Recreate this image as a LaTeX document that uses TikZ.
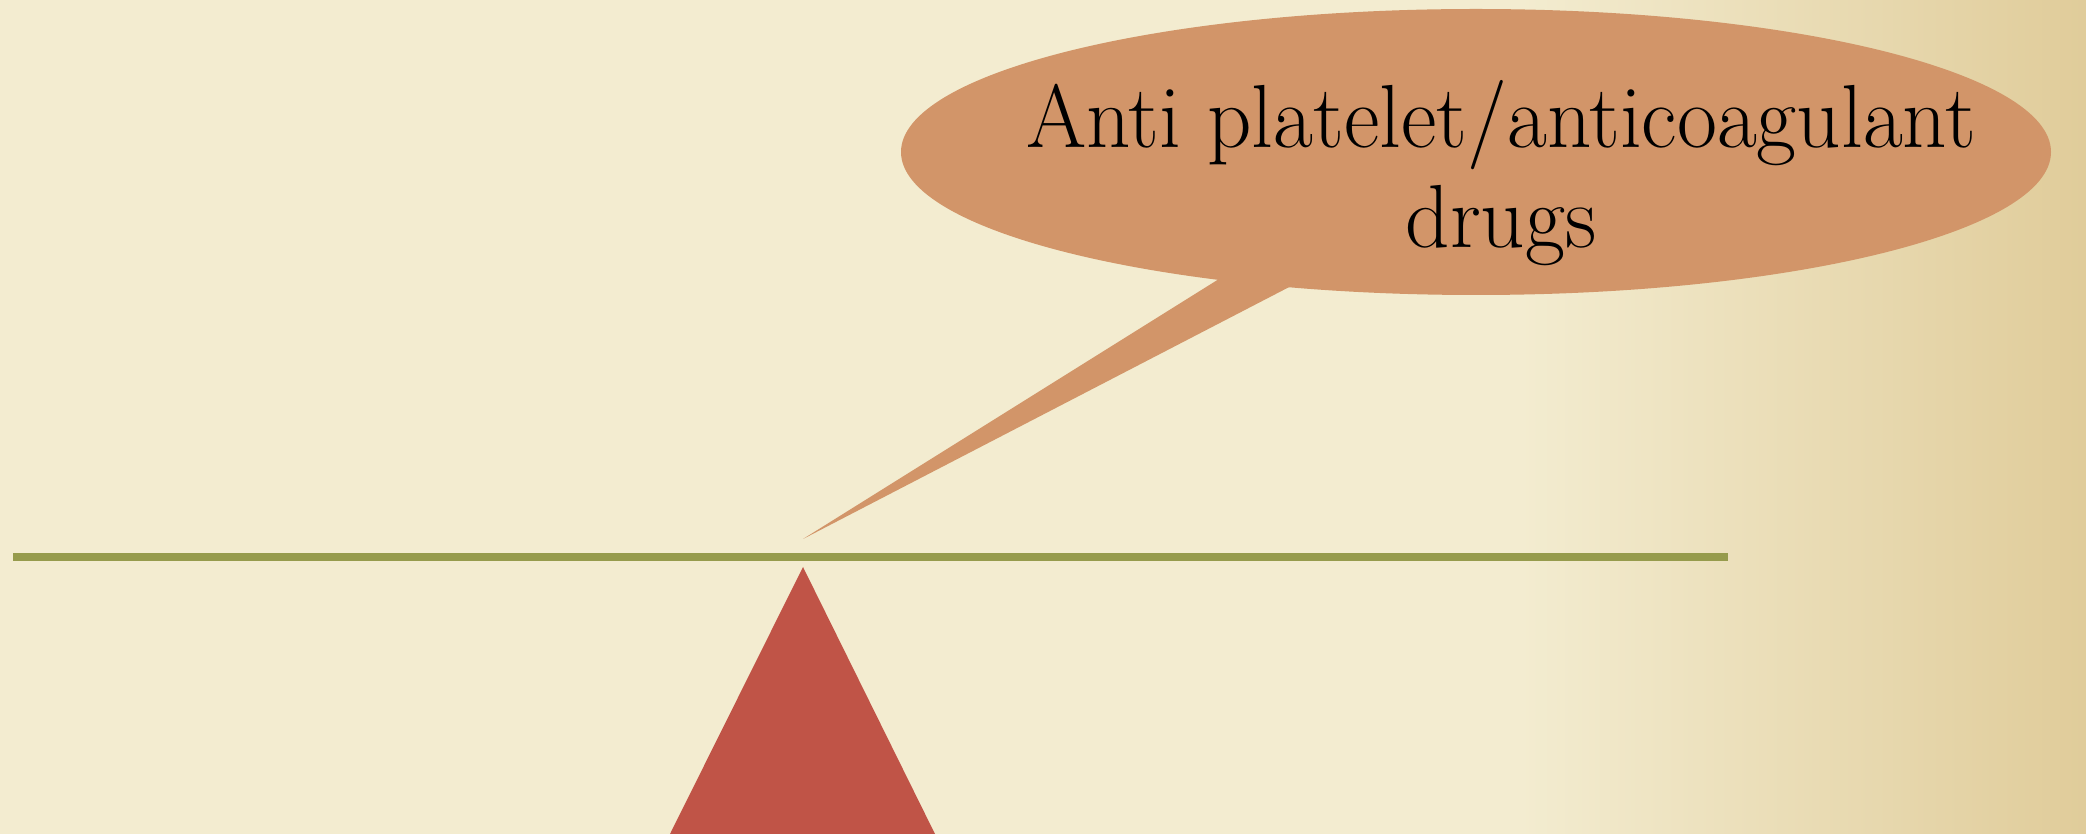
\documentclass[tikz,border=0pt]{standalone}
\usepackage{tikz}
\usetikzlibrary{shapes.geometric, calc}
\definecolor{parchment}{RGB}{243,236,208}
\definecolor{parchmentdark}{RGB}{224,204,154}
\definecolor{beamgreen}{RGB}{150,155,76}
\definecolor{fulcrumred}{RGB}{192,84,71}
\definecolor{bubbletan}{RGB}{210,149,105}
\tikzset{
  %% ---- shapes ----
  bubble/.style  = {ellipse, fill=bubbletan, draw=none, inner sep=0pt,
                    minimum width=11.5cm, minimum height=2.86cm},
  beam/.style    = {line width=0.08cm, color=beamgreen, line cap=butt},
  fulcrum/.style = {fill=fulcrumred, draw=none},
  bubbletext/.style = {align=center, inner sep=0pt, xscale=0.97, transform shape,
                    font=\fontsize{25.5}{28.7}\selectfont},
}

\begin{document}
\begin{tikzpicture}

% Background (parchment, darker towards the right)
\useasboundingbox (0,0) rectangle (20.86,8.34);
\fill[parchment] (0,0) rectangle (15.2,8.34);
\shade[left color=parchment, right color=parchmentdark] (15.2,0) rectangle (20.86,8.34);

% Fulcrum below the beam
\coordinate (apex) at (8.03,2.67);
\fill[fulcrum] (apex) -- (9.35,0) -- (6.70,0) -- cycle;

% Beam
\coordinate (beamL) at (0.13,2.77);
\coordinate (beamR) at (17.28,2.77);
\draw[beam] (beamL) -- (beamR);

% Tail of the speech bubble (drawn first, bubble goes on top)
\coordinate (tip)   at (8.03,2.95);
\coordinate (tailA) at (12.51,5.75);
\coordinate (tailB) at (13.24,5.65);
\fill[bubbletan] (tailA) -- (tip) -- (tailB) -- cycle;

% Speech bubble
\node[bubble] (bubble) at (14.76,6.82) {};
\node[bubbletext, anchor=base] (label) at (15.01,5.86)
  {Anti platelet/anticoagulant\\drugs};

\end{tikzpicture}
\end{document}
